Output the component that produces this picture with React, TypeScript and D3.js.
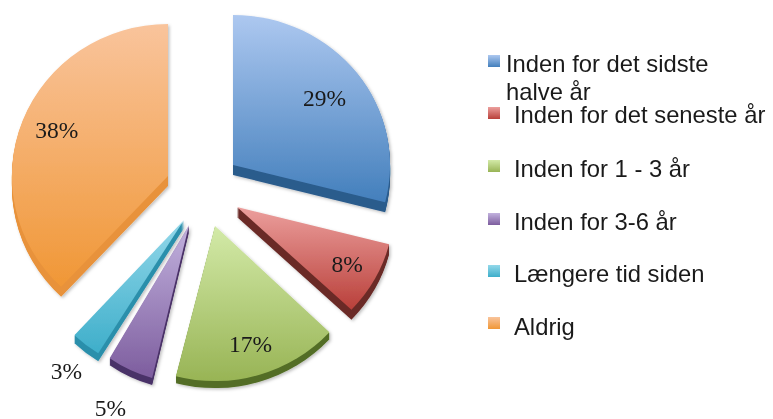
import React from "react";
import * as d3 from "d3";

const categories = [
  "Inden for det sidste halve år",
  "Inden for det seneste år",
  "Inden for 1 - 3 år",
  "Inden for 3-6 år",
  "Længere tid siden",
  "Aldrig",
];
const values = [29, 8, 17, 5, 3, 38];

// colours per slice: top of gradient, bottom of gradient, side wall
const topColors = ["#adc8f0", "#ec9f9d", "#d3eaa8", "#c2b2de", "#93d8ea", "#f9c49c"];
const bottomColors = ["#437fbc", "#b9403a", "#98b455", "#7d5d9e", "#3eaeca", "#f09736"];
const wallColors = ["#2b5b8c", "#6a2a26", "#526d25", "#4a3167", "#2b8fab", "#e8923a"];

// where each exploded slice has its tip, and its radii (the pie is tilted)
const tips = [[233, 165], [237, 207], [215, 226], [189, 225], [184, 220], [168, 176]];
const radiiX = [157, 157, 157, 148, 160, 156];
const radiiY = [150, 150, 155, 158, 158, 152];
const labelFactor = [0.73, 0.8, 0.79, 1.27, 1.22, 0.78];
const labelShiftX = [1, 0, 1, -4, 2, 2];
const labelShiftY = [8, 7, 8, 7, 7, 6];
const depth = [10, 10, 7, 7, 8, 10];

const legendY = [55, 107, 160, 213, 265, 317];
const legendTextX = [506, 514, 514, 514, 514, 514];
const legendBaseline = [72, 123, 177, 230, 282, 335];

const pie = d3.pie<number>().sort(null).value((d) => d);
const unitArc = d3.arc<d3.PieArcDatum<number>>().innerRadius(0).outerRadius(1);

export default function App() {
  const slices = pie(values);

  return (
    <svg
      width={773}
      height={419}
      style={{ position: "absolute", left: 0, top: 0, filter: "blur(0.4px)" }}
    >
      <defs>
        {categories.map((c, i) => (
          <linearGradient key={c} id={`grad${i}`} x1="0" y1="0" x2="0" y2="1">
            <stop offset="0" stopColor={topColors[i]} />
            <stop offset="1" stopColor={bottomColors[i]} />
          </linearGradient>
        ))}
        <filter id="shadow" x="-10%" y="-10%" width="120%" height="120%">
          <feDropShadow dx="1.5" dy="1.5" stdDeviation="1.5" floodColor="#000" floodOpacity="0.25" />
        </filter>
      </defs>

      {slices.map((s, i) => {
        const [tx, ty] = tips[i];
        const path = unitArc(s) as string;
        return (
          <g key={categories[i]} filter="url(#shadow)">
            {d3.range(1, depth[i] + 1).map((d) => (
              <path
                key={d}
                d={path}
                fill={wallColors[i]}
                transform={`translate(${tx},${ty + d}) scale(${radiiX[i]},${radiiY[i]})`}
              />
            ))}
            <path
              d={path}
              fill={`url(#grad${i})`}
              transform={`translate(${tx},${ty}) scale(${radiiX[i]},${radiiY[i]})`}
            />
          </g>
        );
      })}

      {slices.map((s, i) => {
        const mid = (s.startAngle + s.endAngle) / 2;
        const x = tips[i][0] + Math.sin(mid) * radiiX[i] * labelFactor[i];
        const y = tips[i][1] - Math.cos(mid) * radiiY[i] * labelFactor[i];
        return (
          <text
            key={categories[i]}
            x={x + labelShiftX[i]}
            y={y + labelShiftY[i]}
            textAnchor="middle"
            fontFamily="'Liberation Serif', serif"
            fontSize={23.5}
            fill="#1a1a1a"
          >
            {values[i]}%
          </text>
        );
      })}

      {categories.map((c, i) => (
        <g key={c} fontFamily="'Liberation Sans', sans-serif" fontSize={23.8} fill="#1a1a1a">
          <rect x={488} y={legendY[i]} width={12} height={12} fill={`url(#grad${i})`} />
          {i === 0 ? (
            <>
              <text x={legendTextX[i]} y={legendBaseline[i]}>Inden for det sidste</text>
              <text x={legendTextX[i]} y={legendBaseline[i] + 28}>halve år</text>
            </>
          ) : (
            <text x={legendTextX[i]} y={legendBaseline[i]}>{c}</text>
          )}
        </g>
      ))}
    </svg>
  );
}
